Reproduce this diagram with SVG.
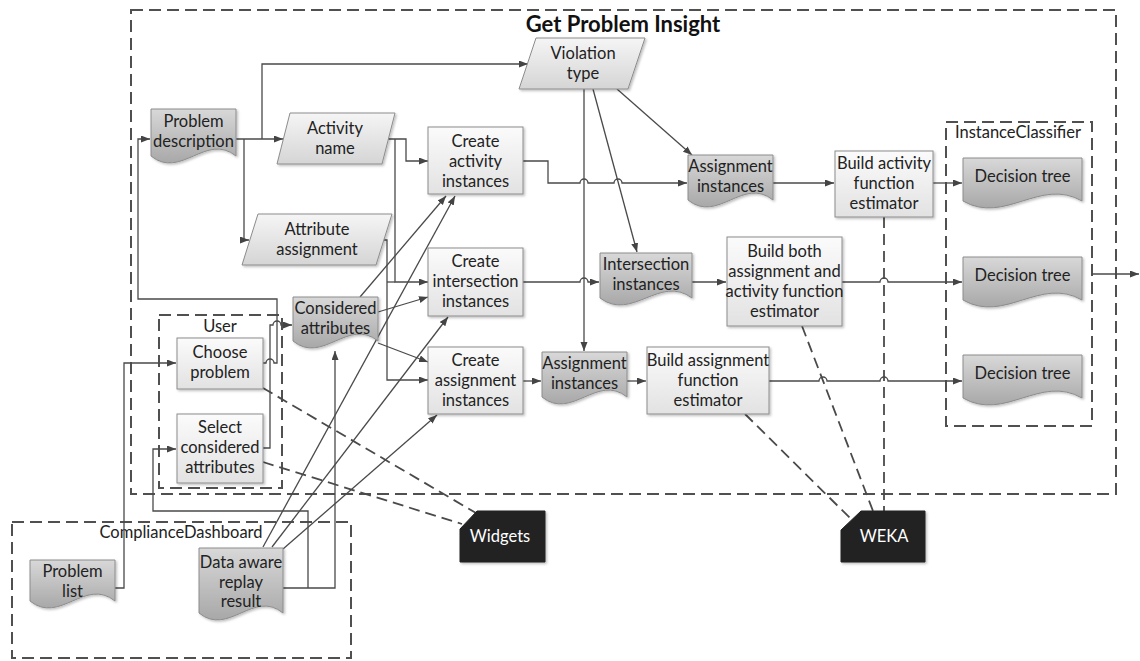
<svg xmlns="http://www.w3.org/2000/svg" width="1140" height="661" viewBox="0 0 1140 661">
<style>
text{font-family:Lato,"Liberation Sans",sans-serif;font-size:16.5px;fill:#222;text-anchor:middle}
.title{font-size:22px;font-weight:bold;fill:#111}
.wt{fill:#fff}
.proc{fill:url(#gProc);stroke:#8c8c8c;stroke-width:1;filter:url(#sh)}
.para{fill:url(#gPara);stroke:#8c8c8c;stroke-width:1;filter:url(#sh)}
.doc{fill:url(#gDoc);stroke:#8c8c8c;stroke-width:1;filter:url(#sh)}
.card{fill:#222;stroke:#222;filter:url(#sh)}
.cont{fill:none;stroke:#505050;stroke-width:2;stroke-dasharray:12 6}
.c{fill:none;stroke:#4a4a4a;stroke-width:1.3}
.a{marker-end:url(#arr)}
.d{fill:none;stroke:#4a4a4a;stroke-width:1.8;stroke-dasharray:11 6}
</style>
<defs>
<linearGradient id="gProc" x1="0" y1="0" x2="0" y2="1"><stop offset="0" stop-color="#fbfbfb"/><stop offset="1" stop-color="#e2e2e2"/></linearGradient>
<linearGradient id="gPara" x1="0" y1="0" x2="0" y2="1"><stop offset="0" stop-color="#f5f5f5"/><stop offset="1" stop-color="#d5d5d5"/></linearGradient>
<linearGradient id="gDoc" x1="0" y1="0" x2="0" y2="1"><stop offset="0" stop-color="#d8d8d8"/><stop offset="1" stop-color="#a8a8a8"/></linearGradient>
<filter id="sh" x="-10%" y="-10%" width="130%" height="130%"><feDropShadow dx="1.5" dy="1.5" stdDeviation="1.2" flood-color="#000" flood-opacity="0.25"/></filter>
<marker id="arr" markerUnits="userSpaceOnUse" markerWidth="10" markerHeight="8" refX="9" refY="3.5" orient="auto"><path d="M0,0 L9,3.5 L0,7 z" fill="#444"/></marker>
</defs>

<g id="containers">
<g id="get-problem-insight"><rect class="cont" x="131" y="10" width="985" height="484"/><text class="title" x="623" y="32">Get Problem Insight</text></g>
<g id="instance-classifier"><rect class="cont" x="946" y="122" width="146" height="304"/><text x="1018" y="138">InstanceClassifier</text></g>
<g id="user"><rect class="cont" x="159" y="315" width="123" height="173"/><text x="220" y="332">User</text></g>
<g id="compliance-dashboard"><rect class="cont" x="12" y="522" width="339" height="136"/><text x="181" y="538">ComplianceDashboard</text></g>
</g>

<g id="connectors">
<path class="c a" d="M236,139 H283"/>
<path class="c a" d="M262,139 V64 H528"/>
<path class="c a" d="M244,139 V240 H249"/>
<path class="c a" d="M388,139 H406 V161 H428"/>
<path class="c a" d="M395,139 V282 H428"/>
<path class="c a" d="M384,240 H387 V380 H428"/>
<path class="c" d="M387,282 H395"/>
<path class="c a" d="M617,89 L692,155"/>
<path class="c a" d="M593,89 L637,252"/>
<path class="c a" d="M584,89 V351"/>
<path class="c a" d="M523,161 H548 V183 H580 a4,4 0 0 1 8,0 H614 a4,4 0 0 1 8,0 H687"/>
<path class="c a" d="M523,282 H580 a4,4 0 0 1 8,0 H599"/>
<path class="c a" d="M523,381 H541"/>
<path class="c a" d="M773,183 H834"/>
<path class="c a" d="M692,282 H726"/>
<path class="c a" d="M627,381 H646"/>
<path class="c a" d="M933,183 H962"/>
<path class="c a" d="M842,282 H880 a4,4 0 0 1 8,0 H962"/>
<path class="c a" d="M769,381 H819 a4,4 0 0 1 8,0 H880 a4,4 0 0 1 8,0 H962"/>
<path class="c a" d="M1092,274 H1139"/>
<path class="c a" d="M360,297 L446,196"/>
<path class="c a" d="M378,312 L428,297"/>
<path class="c a" d="M378,343 L428,362"/>
<path class="c a" d="M263,547 L455,196"/>
<path class="c a" d="M272,547 L448,317"/>
<path class="c a" d="M283,549 L437,415"/>
<path class="c a" d="M283,588 H335 V351"/>
<path class="c a" d="M308,588 V511 H153 V449 H176"/>
<path class="c a" d="M115,588 H124 V363 H176"/>
<path class="c a" d="M263,363 H266 a4,4 0 0 1 8,0 H277 V299 H138 V139 H150"/>
<path class="c a" d="M263,448 H270 V325 H273 a4,4 0 0 1 8,0 H292"/>
<path class="d" d="M884,217 V511"/>
<path class="d" d="M802,326 L873,511"/>
<path class="d" d="M745,414 L851,519"/>
<path class="d" d="M263,388 L476,513"/>
<path class="d" d="M263,462 L462,524"/>
</g>

<g id="problem-description"><path class="doc" d="M151,109 H236 V156 C206.25,132 180.75,180 151,156 Z"/><text x="193.5" y="127">Problem</text><text x="193.5" y="147">description</text></g>
<g id="activity-name"><polygon class="para" points="290,113 395,113 382,164 277,164"/><text x="335" y="134">Activity</text><text x="335" y="154">name</text></g>
<g id="attribute-assignment"><polygon class="para" points="258,214 392,214 376,265 242,265"/><text x="317" y="235">Attribute</text><text x="317" y="255">assignment</text></g>
<g id="violation-type"><polygon class="para" points="536,38 645,38 628,89 519,89"/><text x="583" y="59">Violation</text><text x="583" y="79">type</text></g>
<g id="create-activity-instances"><rect class="proc" x="428" y="127" width="95" height="67"/><text x="475.5" y="147">Create</text><text x="475.5" y="167">activity</text><text x="475.5" y="187">instances</text></g>
<g id="create-intersection-instances"><rect class="proc" x="428" y="248" width="95" height="68"/><text x="475.5" y="267">Create</text><text x="475.5" y="287">intersection</text><text x="475.5" y="307">instances</text></g>
<g id="create-assignment-instances"><rect class="proc" x="428" y="347" width="95" height="67"/><text x="475.5" y="366">Create</text><text x="475.5" y="386">assignment</text><text x="475.5" y="406">instances</text></g>
<g id="assignment-instances-1"><path class="doc" d="M688,155 H773 V200 C743.25,176 717.75,224 688,200 Z"/><text x="730.5" y="172">Assignment</text><text x="730.5" y="192">instances</text></g>
<g id="intersection-instances"><path class="doc" d="M600,253 H692 V298 C659.8,274 632.2,322 600,298 Z"/><text x="646" y="270">Intersection</text><text x="646" y="290">instances</text></g>
<g id="assignment-instances-2"><path class="doc" d="M542,352 H627 V397 C597.25,373 571.75,421 542,397 Z"/><text x="584.5" y="369">Assignment</text><text x="584.5" y="389">instances</text></g>
<g id="build-activity-function-estimator"><rect class="proc" x="835" y="151" width="98" height="66"/><text x="884" y="169">Build activity</text><text x="884" y="189">function</text><text x="884" y="209">estimator</text></g>
<g id="build-both-estimator"><rect class="proc" x="727" y="237" width="115" height="89"/><text x="784.5" y="257">Build both</text><text x="784.5" y="277">assignment and</text><text x="784.5" y="297">activity function</text><text x="784.5" y="317">estimator</text></g>
<g id="build-assignment-function-estimator"><rect class="proc" x="647" y="347" width="122" height="67"/><text x="708" y="366">Build assignment</text><text x="708" y="386">function</text><text x="708" y="406">estimator</text></g>
<g id="decision-tree-1"><path class="doc" d="M963,158 H1082 V201 C1040.35,177 1004.65,225 963,201 Z"/><text x="1022.5" y="182">Decision tree</text></g>
<g id="decision-tree-2"><path class="doc" d="M963,257 H1082 V300 C1040.35,276 1004.65,324 963,300 Z"/><text x="1022.5" y="281">Decision tree</text></g>
<g id="decision-tree-3"><path class="doc" d="M963,355 H1082 V398 C1040.35,374 1004.65,422 963,398 Z"/><text x="1022.5" y="379">Decision tree</text></g>
<g id="considered-attributes"><path class="doc" d="M293,297 H378 V341 C348.25,317 322.75,365 293,341 Z"/><text x="335.5" y="314">Considered</text><text x="335.5" y="334">attributes</text></g>
<g id="choose-problem"><rect class="proc" x="177" y="338" width="86" height="51"/><text x="220" y="358">Choose</text><text x="220" y="378">problem</text></g>
<g id="select-considered-attributes"><rect class="proc" x="177" y="414" width="86" height="69"/><text x="220" y="433">Select</text><text x="220" y="453">considered</text><text x="220" y="473">attributes</text></g>
<g id="problem-list"><path class="doc" d="M30,560 H115 V601 C85.25,577 59.75,625 30,601 Z"/><text x="72.5" y="577">Problem</text><text x="72.5" y="597">list</text></g>
<g id="data-aware-replay-result"><path class="doc" d="M199,548 H283 V613 C253.6,589 228.4,637 199,613 Z"/><text x="241" y="568">Data aware</text><text x="241" y="588">replay</text><text x="241" y="607">result</text></g>
<g id="widgets"><path class="card" d="M477,511 H545 V562 H460 V529 Z"/><text class="wt" x="500" y="542">Widgets</text></g>
<g id="weka"><path class="card" d="M861,511 H925 V562 H841 V530 Z"/><text class="wt" x="884" y="542">WEKA</text></g>
</svg>
